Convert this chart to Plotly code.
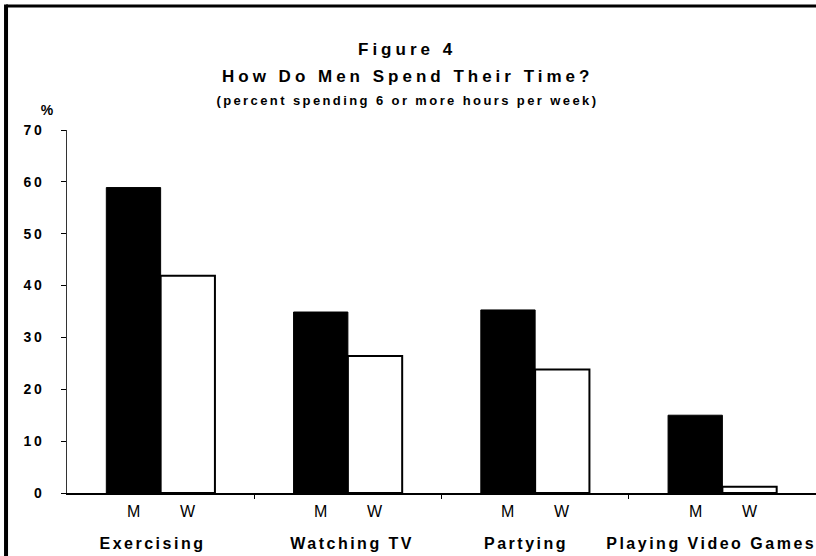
import plotly.graph_objects as go

categories = ["Exercising", "Watching TV", "Partying", "Playing Video Games"]
men = [58.9, 34.9, 35.3, 15.0]
women = [41.9, 26.4, 23.8, 1.2]
series_labels = ["M", "W"]
y_ticks = [0, 10, 20, 30, 40, 50, 60, 70]

BAR_GAP = 0.42
half = (1 - BAR_GAP) / 4  # centre offset of each bar inside its group
pos = list(range(len(categories)))
label_shift = [-8, 5, -9, -11]  # the scanned labels sit a bit off-centre

FONT = "Liberation Sans"


def to_paper(py):
    # plot area runs from pixel 130 (70 %) down to pixel 493 (0 %)
    return (493 - py) / 363


fig = go.Figure()
fig.add_trace(go.Bar(
    x=pos, y=men, name="M",
    marker=dict(color="black", line=dict(color="black", width=1))
))
fig.add_trace(go.Bar(
    x=pos, y=women, name="W",
    marker=dict(color="white", line=dict(color="black", width=2))
))

ann = []
for i in pos:
    for k, lbl in enumerate(series_labels):
        ann.append(dict(x=i + (2 * k - 1) * half, y=to_paper(511), xref="x", yref="paper",
                        text=lbl, showarrow=False, yanchor="middle",
                        font=dict(family=FONT, size=16, color="black")))
    ann.append(dict(x=i, y=to_paper(543), xref="x", yref="paper", xshift=label_shift[i],
                    text=categories[i], showarrow=False, yanchor="middle",
                    font=dict(family=FONT, size=16, color="black", weight="bold")))

tx = (407 - 67) / 749
ann += [
    dict(x=tx, y=to_paper(49), xref="paper", yref="paper", text="Figure 4", showarrow=False,
         yanchor="middle", font=dict(family=FONT, size=17, color="black", weight="bold")),
    dict(x=tx, y=to_paper(76), xref="paper", yref="paper", text="How Do Men Spend Their Time?",
         showarrow=False, yanchor="middle",
         font=dict(family=FONT, size=17, color="black", weight="bold")),
    dict(x=tx, y=to_paper(100), xref="paper", yref="paper",
         text="(percent spending 6 or more hours per week)", showarrow=False, yanchor="middle",
         font=dict(family=FONT, size=13, color="black", weight="bold")),
    dict(x=(40 - 67) / 749, y=to_paper(110), xref="paper", yref="paper", text="%",
         showarrow=False, yanchor="middle",
         font=dict(family=FONT, size=14, color="black", weight="bold")),
]

fig.update_layout(
    width=816, height=556,
    paper_bgcolor="white", plot_bgcolor="white",
    margin=dict(l=67, r=0, t=130, b=63),
    barmode="group", bargap=BAR_GAP, bargroupgap=0,
    showlegend=False,
    annotations=ann,
    shapes=[
        dict(type="line", xref="paper", yref="paper", x0=-0.0814, x1=1.05,
             y0=to_paper(6), y1=to_paper(6), line=dict(color="black", width=3)),
        dict(type="line", xref="paper", yref="paper", x0=-0.0814, x1=-0.0814,
             y0=to_paper(4.5), y1=to_paper(570), line=dict(color="black", width=4)),
    ],
)
fig.update_xaxes(
    range=[-0.5, 3.5], showgrid=False, zeroline=False,
    showline=True, linecolor="black", linewidth=1.5,
    tickvals=[0.5, 1.5, 2.5], ticks="outside", ticklen=4, tickcolor="black",
    showticklabels=False,
)
fig.update_yaxes(
    range=[0, 70], tickvals=y_ticks, showgrid=False, zeroline=False,
    showline=True, linecolor="#333", linewidth=1,
    ticks="outside", ticklen=5, tickcolor="black",
    tickfont=dict(family=FONT, size=14, color="black", weight="bold"),
    ticklabelstandoff=14,
)

# page without body margin; widen letter spacing like the typewriter-spaced original
post = """
document.body.style.margin = '0';
var gd = document.getElementById('{plot_id}');
function spread() {
  gd.querySelectorAll('text').forEach(function (t) {
    var fs = t.style.fontSize, bold = (t.style.fontWeight === 'bold' || t.style.fontWeight === '700');
    var ls = null;
    if (fs === '17px') ls = '4px';
    else if (fs === '13px') ls = '2.4px';
    else if (fs === '14px') ls = '2.5px';
    else if (fs === '16px' && bold) ls = '2.5px';
    if (ls) t.setAttribute('letter-spacing', ls);
  });
}
spread();
gd.on('plotly_afterplot', spread);
"""
fig.write_html("out.html", post_script=post, config={"displayModeBar": False})
